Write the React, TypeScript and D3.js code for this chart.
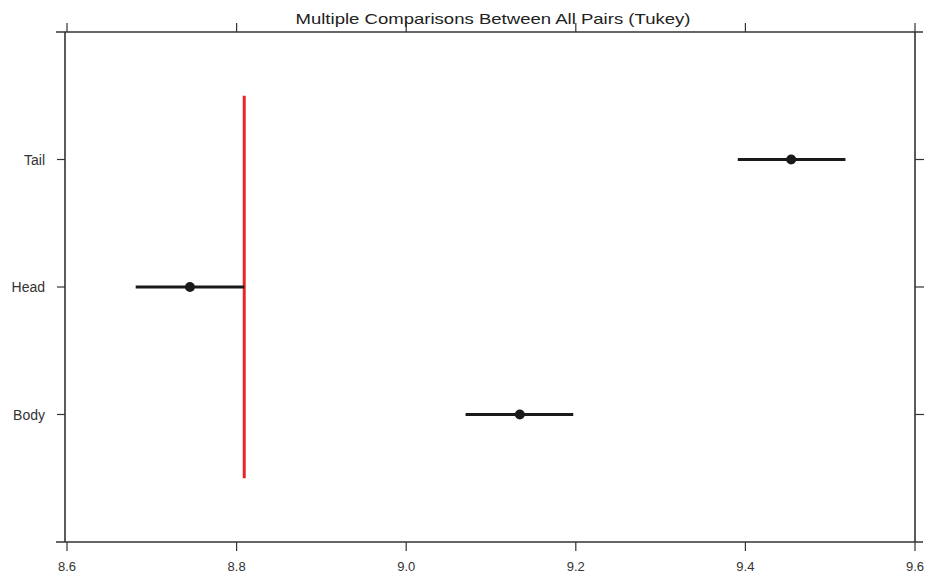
import React from "react";
import * as d3 from "d3";

const categories = ["Body", "Head", "Tail"];
const estimates = [9.134, 8.745, 9.454];
const lowerBounds = [9.07, 8.681, 9.391];
const upperBounds = [9.197, 8.809, 9.518];
const xTicks = [8.6, 8.8, 9.0, 9.2, 9.4, 9.6];
const xTickLabels = ["8.6", "8.8", "9.0", "9.2", "9.4", "9.6"];
const referenceValue = 8.809;
const title = "Multiple Comparisons Between All Pairs (Tukey)";

const W = 927;
const H = 575;
const box = { left: 65, right: 915, top: 32, bottom: 542 };

export default function App() {
  const x = d3.scaleLinear().domain([8.6, 9.6]).range([67, 915]);
  const y = d3
    .scalePoint<string>()
    .domain(categories)
    .range([box.bottom, box.top])
    .padding(1);
  const step = y.step();
  const font = "'Liberation Sans', Arial, Helvetica, sans-serif";
  const axisColor = "#333";

  return (
    <svg
      width={W}
      height={H}
      style={{ position: "absolute", left: 0, top: 0, background: "#fff" }}
    >
      <text
        x={493}
        y={24}
        textAnchor="middle"
        fontFamily={font}
        fontSize={15}
        fill="#222"
        textLength={395}
        lengthAdjust="spacingAndGlyphs"
      >
        {title}
      </text>
      {/* box */}
      <line x1={56} x2={923} y1={box.top} y2={box.top} stroke={axisColor} strokeWidth={1.6} />
      <line x1={56} x2={923} y1={box.bottom} y2={box.bottom} stroke={axisColor} strokeWidth={1.6} />
      <line x1={box.left} x2={box.left} y1={box.top} y2={box.bottom} stroke={axisColor} strokeWidth={1.6} />
      <line x1={box.right} x2={box.right} y1={box.top} y2={box.bottom} stroke={axisColor} strokeWidth={1.6} />
      {/* x ticks */}
      {xTicks.map((t, i) => (
        <g key={"xt" + i}>
          <line x1={x(t)} x2={x(t)} y1={box.bottom} y2={box.bottom + 9} stroke={axisColor} strokeWidth={1.2} />
          <line x1={x(t)} x2={x(t)} y1={box.top} y2={box.top - 9} stroke={axisColor} strokeWidth={1.2} />
          <text
            x={x(t)}
            y={571}
            textAnchor="middle"
            fontFamily={font}
            fontSize={13}
            fill="#333"
          >
            {xTickLabels[i]}
          </text>
        </g>
      ))}
      {/* y ticks */}
      {categories.map((c) => (
        <g key={"yt" + c}>
          <line x1={box.left - 8} x2={box.left} y1={y(c)} y2={y(c)} stroke={axisColor} strokeWidth={1.2} />
          <line x1={box.right} x2={box.right + 9} y1={y(c)} y2={y(c)} stroke={axisColor} strokeWidth={1.2} />
          <text
            x={45}
            y={(y(c) as number) + 5}
            textAnchor="end"
            fontFamily={font}
            fontSize={14}
            fill="#333"
          >
            {c}
          </text>
        </g>
      ))}
      {/* reference line */}
      <line
        x1={x(referenceValue)}
        x2={x(referenceValue)}
        y1={(y(categories[categories.length - 1]) as number) - step / 2}
        y2={(y(categories[0]) as number) + step / 2}
        stroke="#e8262a"
        strokeWidth={3}
      />
      {/* intervals */}
      {categories.map((c, i) => (
        <g key={"iv" + c}>
          <line
            x1={x(lowerBounds[i])}
            x2={x(upperBounds[i])}
            y1={y(c)}
            y2={y(c)}
            stroke="#1a1a1a"
            strokeWidth={2.8}
          />
          <circle cx={x(estimates[i])} cy={y(c)} r={5} fill="#1a1a1a" />
        </g>
      ))}
    </svg>
  );
}
